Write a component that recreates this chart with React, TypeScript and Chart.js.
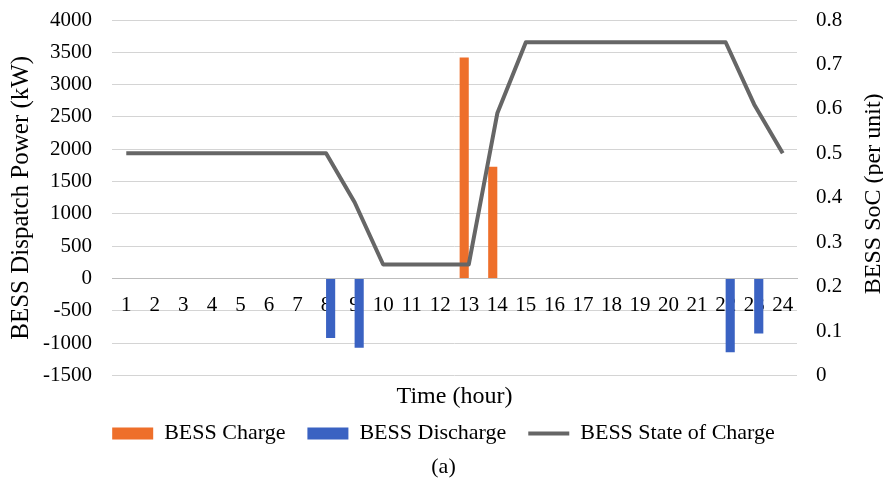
import { useEffect, useRef } from 'react';
import { Chart, registerables } from 'chart.js';

Chart.register(...registerables);

// Hours of the day (x categories)
const hours = ['1', '2', '3', '4', '5', '6', '7', '8', '9', '10', '11', '12',
  '13', '14', '15', '16', '17', '18', '19', '20', '21', '22', '23', '24'];

// BESS charging power (kW)
const chargeKW = [0, 0, 0, 0, 0, 0, 0, 0, 0, 0, 0, 0,
  3420, 1730, 0, 0, 0, 0, 0, 0, 0, 0, 0, 0];

// BESS discharging power (kW, negative)
const dischargeKW = [0, 0, 0, 0, 0, 0, 0, -920, -1070, 0, 0, 0,
  0, 0, 0, 0, 0, 0, 0, 0, 0, -1140, -850, 0];

// BESS state of charge (per unit)
const socPU = [0.5, 0.5, 0.5, 0.5, 0.5, 0.5, 0.5, 0.5, 0.39, 0.25, 0.25, 0.25,
  0.25, 0.59, 0.75, 0.75, 0.75, 0.75, 0.75, 0.75, 0.75, 0.75, 0.61, 0.5];

const seriesNames = ['BESS Charge', 'BESS Discharge', 'BESS State of Charge'];
const leftTitle = 'BESS Dispatch Power (kW)';
const rightTitle = 'BESS SoC (per unit)';
const xTitle = 'Time (hour)';
const caption = '(a)';

const SERIF = '"Liberation Serif", "Times New Roman", serif';
const ORANGE = '#EE6F2A';
const BLUE = '#3A62C2';
const GRAY = '#666666';
const GRID = '#d4d4d4';

// Right-hand axis title, drawn reading bottom-to-top like the left one
const rightTitlePlugin = {
  id: 'rightAxisTitle',
  afterDraw(chart: any) {
    const { ctx, chartArea } = chart;
    ctx.save();
    ctx.translate(chart.width - 9, (chartArea.top + chartArea.bottom) / 2 - 4);
    ctx.rotate(-Math.PI / 2);
    ctx.font = `24px ${SERIF}`;
    ctx.fillStyle = '#000';
    ctx.textAlign = 'center';
    ctx.textBaseline = 'middle';
    ctx.fillText(rightTitle, 0, 0);
    ctx.restore();
  },
};

// Fixed axis width; the end labels may overflow into the outer margin
const fixWidth = (w: number) => (s: any) => {
  s.width = w;
  s.paddingTop = 0;
  s.paddingBottom = 0;
};

export default function App() {
  const canvasRef = useRef<HTMLCanvasElement | null>(null);

  useEffect(() => {
    const canvas = canvasRef.current;
    if (!canvas) return;
    const chart = new Chart(canvas, {
      type: 'bar',
      data: {
        labels: hours,
        datasets: [
          {
            type: 'bar',
            label: seriesNames[0],
            data: chargeKW,
            backgroundColor: ORANGE,
            borderWidth: 0,
            yAxisID: 'y',
            xAxisID: 'x',
            order: 1,
          },
          {
            type: 'bar',
            label: seriesNames[1],
            data: dischargeKW,
            backgroundColor: BLUE,
            borderWidth: 0,
            yAxisID: 'y',
            xAxisID: 'x',
            order: 1,
          },
          {
            type: 'line',
            label: seriesNames[2],
            data: socPU,
            borderColor: GRAY,
            backgroundColor: GRAY,
            borderWidth: 4,
            pointRadius: 0,
            tension: 0,
            borderJoinStyle: 'round',
            yAxisID: 'y1',
            xAxisID: 'x',
            order: 0,
          } as any,
        ],
      },
      options: {
        responsive: false,
        animation: false,
        events: [],
        datasets: {
          bar: { categoryPercentage: 0.64, barPercentage: 1 },
        },
        layout: { padding: { left: 4, right: 0, top: 20, bottom: 0 } },
        scales: {
          x: {
            type: 'category',
            position: 'bottom',
            offset: true,
            grid: { display: false, drawTicks: false },
            border: { display: false },
            ticks: { display: false },
            title: {
              display: true,
              text: xTitle,
              color: '#000',
              font: { family: SERIF, size: 24 },
              padding: { top: 6.6, bottom: -10.4 },
            },
          },
          x2: {
            type: 'category',
            axis: 'x',
            labels: hours,
            position: { y: 0 } as any,
            offset: true,
            grid: { display: false, drawTicks: false },
            border: { display: true, color: '#bdbdbd', width: 1 },
            ticks: {
              color: '#000',
              font: { family: SERIF, size: 21 },
              padding: 14,
              autoSkip: false,
              maxRotation: 0,
            },
          },
          y: {
            type: 'linear',
            position: 'left',
            min: -1500,
            max: 4000,
            grid: { color: GRID, lineWidth: 1, drawTicks: false },
            border: { display: false },
            ticks: {
              stepSize: 500,
              color: '#000',
              font: { family: SERIF, size: 21 },
              padding: 20,
              callback: (v: any) => String(v),
            },
            title: {
              display: true,
              text: leftTitle,
              color: '#000',
              font: { family: SERIF, size: 25 },
              padding: { top: 2, bottom: 4 },
            },
            afterFit: fixWidth(108),
          },
          y1: {
            type: 'linear',
            position: 'right',
            min: 0,
            max: 0.8,
            grid: { display: false, drawTicks: false },
            border: { display: false },
            ticks: {
              stepSize: 0.1,
              color: '#000',
              font: { family: SERIF, size: 21 },
              padding: 19,
              callback: (v: any) => String(Math.round(Number(v) * 10) / 10),
            },
            afterFit: fixWidth(86),
          },
        },
        plugins: {
          tooltip: { enabled: false },
          legend: {
            display: true,
            position: 'bottom',
            labels: {
              color: '#000',
              font: { family: SERIF, size: 22 },
              usePointStyle: true,
              pointStyleWidth: 41,
              boxHeight: 12,
              padding: 22,
              sort: (a: any, b: any) => a.datasetIndex - b.datasetIndex,
              generateLabels: (c: any) => {
                const items = Chart.defaults.plugins.legend.labels.generateLabels(c);
                return items.map((it: any) => {
                  const isLine = it.datasetIndex === 2;
                  return {
                    ...it,
                    pointStyle: isLine ? 'line' : 'rect',
                    lineWidth: isLine ? 4 : 0,
                    strokeStyle: isLine ? GRAY : it.fillStyle,
                  };
                });
              },
            },
          },
          title: {
            display: true,
            position: 'bottom',
            text: caption,
            color: '#000',
            font: { family: SERIF, size: 22, weight: 'normal' },
            padding: { top: -1, bottom: 8 },
          },
        },
      },
      plugins: [rightTitlePlugin],
    });
    return () => chart.destroy();
  }, []);

  return (
    <div style={{ position: 'absolute', left: 0, top: 0, width: 883, height: 488, background: '#fff' }}>
      <canvas ref={canvasRef} width={883} height={488} style={{ display: 'block' }} />
    </div>
  );
}
